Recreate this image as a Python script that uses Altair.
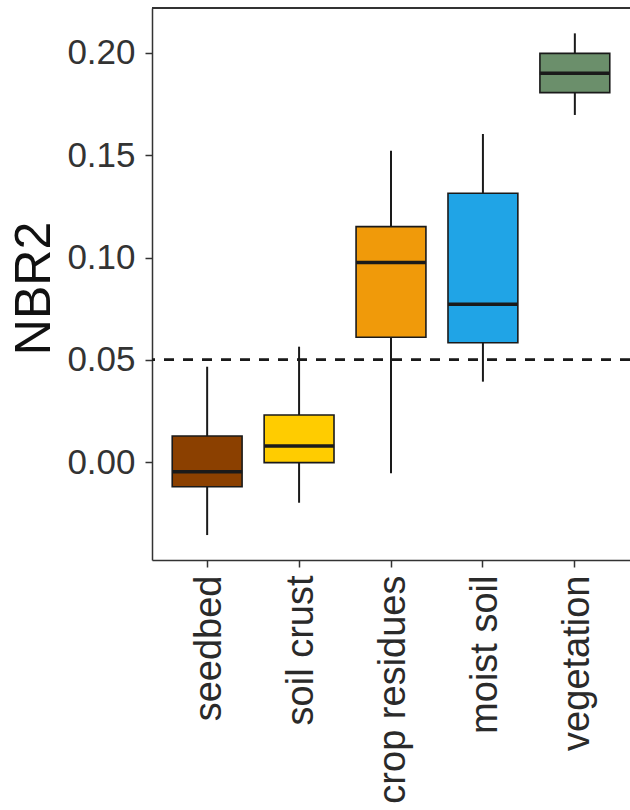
import altair as alt
import pandas as pd

# Surface classes and their NBR2 box-plot statistics
categories = ["seedbed", "soil crust", "crop residues", "moist soil", "vegetation"]
whisker_low = [-0.0357, -0.0199, -0.0055, 0.0393, 0.1697]
q1 = [-0.0121, -0.0003, 0.0610, 0.0583, 0.1806]
median = [-0.0047, 0.0078, 0.0976, 0.0771, 0.1901]
q3 = [0.0127, 0.0230, 0.1151, 0.1314, 0.1998]
whisker_high = [0.0466, 0.0564, 0.1522, 0.1604, 0.2096]
fills = ["#8B4000", "#FFCC00", "#F09A0A", "#20A4E6", "#6B8F6B"]
threshold = 0.05

df = pd.DataFrame({
    "category": categories,
    "lower": whisker_low,
    "q1": q1,
    "median": median,
    "q3": q3,
    "upper": whisker_high,
})

FONT = "Liberation Sans"
INK = "#1a1a1a"
AXIS = "#333333"
W, H = 478, 552

xscale = alt.Scale(domain=categories, paddingInner=0, paddingOuter=0.1)
yscale = alt.Scale(domain=[-0.0479, 0.222], nice=False, zero=False)

xaxis = alt.Axis(
    title=None, labelAngle=270, labelAlign="right", labelBaseline="middle",
    labelFontSize=38, labelFont=FONT, labelColor="#2a2a2a", labelPadding=8,
    labelLimit=400, labelOffset=3,
    tickSize=7, tickColor=AXIS, tickWidth=1.5, domainColor=AXIS, domainWidth=1.5,
    grid=False, labelOverlap=False,
)
yaxis = alt.Axis(
    title="NBR2", titleFontSize=50, titleFont=FONT, titleColor="#111111",
    titleFontWeight="normal", titleAngle=270, titleAlign="center",
    titleBaseline="alphabetic", titleX=-103, titleY=280,
    values=[0, 0.05, 0.10, 0.15, 0.20], format=".2f",
    labelFontSize=35, labelFont=FONT, labelColor="#333333", labelPadding=10,
    tickSize=7, tickColor=AXIS, tickWidth=1.5, domainColor=AXIS, domainWidth=1.5,
    grid=False,
)

base = alt.Chart(df).encode(
    x=alt.X("category:N", sort=categories, scale=xscale, axis=xaxis)
)

whiskers = base.mark_rule(color=INK, strokeWidth=2).encode(
    y=alt.Y("lower:Q", scale=yscale, axis=yaxis),
    y2="upper:Q",
)

boxes = base.mark_bar(
    stroke=INK, strokeWidth=1.6, width=alt.RelativeBandSize(0.76), opacity=1
).encode(
    y=alt.Y("q1:Q", scale=yscale, axis=yaxis),
    y2="q3:Q",
    color=alt.Color("category:N", scale=alt.Scale(domain=categories, range=fills), legend=None),
)

medians = base.mark_tick(
    color=INK, thickness=3.5, size=70, orient="horizontal", opacity=1
).encode(
    y=alt.Y("median:Q", scale=yscale, axis=yaxis),
)

hline = alt.Chart(df).mark_rule(
    color=INK, strokeWidth=2, strokeDash=[10, 9]
).encode(y=alt.datum(threshold))

top_line = alt.Chart(df).mark_rule(color=AXIS, strokeWidth=1.5).encode(
    x=alt.value(0), x2=alt.value(W), y=alt.value(0)
)

chart = alt.layer(whiskers, boxes, medians, hline, top_line).properties(
    width=W,
    height=H,
    autosize=alt.AutoSizeParams(type="none"),
    padding={"left": 152, "top": 8, "right": 0, "bottom": 250},
    background="white",
).configure_view(stroke=None)

chart.save("out.html", embed_options={"renderer": "svg", "actions": False})
